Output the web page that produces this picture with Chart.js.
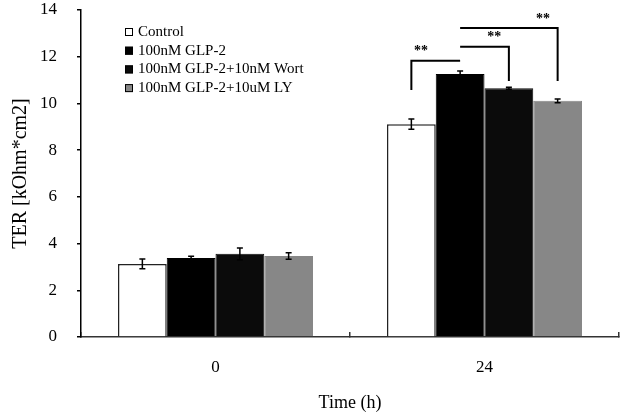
<!DOCTYPE html>
<html>
<head>
<meta charset="utf-8">
<script src="https://cdn.jsdelivr.net/npm/chart.js@4.4.1/dist/chart.umd.min.js"></script>
<style>
  html, body { margin: 0; padding: 0; background: #fff; }
  #wrap { width: 630px; height: 418px; }
</style>
</head>
<body>
<div id="wrap"><canvas id="terChart" width="630" height="418"></canvas></div>
<script>
const timeLabels = ['0', '24'];
const seriesNames = ['Control', '100nM GLP-2', '100nM GLP-2+10nM Wort', '100nM GLP-2+10uM LY'];

// mean TER per time point
const controlMeans = [3.13, 9.11];
const glpMeans = [3.38, 11.26];
const wortMeans = [3.56, 10.65];
const lyMeans = [3.47, 10.11];

// error bar half lengths
const controlErr = [0.21, 0.22];
const glpErr = [0.08, 0.13];
const wortErr = [0.25, 0.04];
const lyErr = [0.14, 0.08];

// significance brackets at 24h: [from series, to series, top, from drop, to drop, star pos]
const sigBrackets = [
  [0, 1, 11.83, 10.58, 11.83, 0.2],
  [1, 2, 12.43, 12.43, 10.96, 0.7],
  [1, 3, 13.23, 13.23, 10.96, 0.85]
];

const serif = 'Liberation Serif, Times New Roman, serif';

const errorBarPlugin = {
  id: 'errorBars',
  afterDatasetsDraw(chart) {
    const ctx = chart.ctx;
    const y = chart.scales.y;
    ctx.save();
    ctx.strokeStyle = '#000';
    ctx.lineWidth = 1.5;
    chart.data.datasets.forEach((ds, i) => {
      const meta = chart.getDatasetMeta(i);
      meta.data.forEach((bar, j) => {
        const hi = y.getPixelForValue(ds.data[j] + ds.errors[j]);
        const lo = y.getPixelForValue(ds.data[j] - ds.errors[j]);
        ctx.beginPath();
        ctx.moveTo(bar.x, hi); ctx.lineTo(bar.x, lo);
        ctx.moveTo(bar.x - 3, hi); ctx.lineTo(bar.x + 3, hi);
        ctx.moveTo(bar.x - 3, lo); ctx.lineTo(bar.x + 3, lo);
        ctx.stroke();
      });
    });
    ctx.restore();
  }
};

const bracketPlugin = {
  id: 'sigBrackets',
  afterDatasetsDraw(chart) {
    const ctx = chart.ctx;
    const y = chart.scales.y;
    ctx.save();
    ctx.strokeStyle = '#000';
    ctx.lineWidth = 2;
    ctx.fillStyle = '#000';
    ctx.font = 'bold 14px ' + serif;
    ctx.textAlign = 'center';
    ctx.textBaseline = 'middle';
    sigBrackets.forEach(b => {
      const x1 = chart.getDatasetMeta(b[0]).data[1].x;
      const x2 = chart.getDatasetMeta(b[1]).data[1].x;
      const top = y.getPixelForValue(b[2]);
      ctx.beginPath();
      ctx.moveTo(x1, y.getPixelForValue(b[3]));
      ctx.lineTo(x1, top);
      ctx.lineTo(x2, top);
      ctx.lineTo(x2, y.getPixelForValue(b[4]));
      ctx.stroke();
      ctx.fillText('**', x1 + (x2 - x1) * b[5], top - 9);
    });
    ctx.restore();
  }
};

const legendPlugin = {
  id: 'boxLegend',
  afterDraw(chart) {
    const ctx = chart.ctx;
    const area = chart.chartArea;
    ctx.save();
    ctx.font = '15px ' + serif;
    ctx.textBaseline = 'middle';
    chart.data.datasets.forEach((ds, i) => {
      const cy = area.top + 22 + i * 18.7;
      const bx = area.left + 44;
      ctx.fillStyle = ds.backgroundColor;
      ctx.fillRect(bx, cy - 4, 8, 8);
      ctx.strokeStyle = '#000';
      ctx.lineWidth = 1;
      ctx.strokeRect(bx + 0.5, cy - 3.5, 7, 7);
      ctx.fillStyle = '#000';
      ctx.fillText(ds.label, bx + 13, cy);
    });
    ctx.restore();
  }
};

new Chart(document.getElementById('terChart'), {
  type: 'bar',
  data: {
    labels: timeLabels,
    datasets: [
      { label: seriesNames[0], data: controlMeans, errors: controlErr, backgroundColor: '#ffffff', borderColor: '#222', borderWidth: 1.5 },
      { label: seriesNames[1], data: glpMeans, errors: glpErr, backgroundColor: '#000000', borderColor: '#000', borderWidth: 1 },
      { label: seriesNames[2], data: wortMeans, errors: wortErr, backgroundColor: '#0b0b0b', borderColor: '#0b0b0b', borderWidth: 1 },
      { label: seriesNames[3], data: lyMeans, errors: lyErr, backgroundColor: '#878787', borderColor: '#878787', borderWidth: 1 }
    ]
  },
  options: {
    responsive: false,
    animation: false,
    layout: { padding: { top: 10, right: 11, left: 0, bottom: 0 } },
    plugins: {
      legend: { display: false },
      tooltip: { enabled: false }
    },
    datasets: {
      bar: { categoryPercentage: 0.725, barPercentage: 1 }
    },
    scales: {
      x: {
        grid: { drawOnChartArea: false, drawTicks: true, tickLength: -5, color: '#333', lineWidth: 1.5 },
        border: { color: '#333', width: 1.5 },
        ticks: { color: '#000', padding: 25, font: { family: serif, size: 17 } },
        title: { display: true, text: 'Time (h)', color: '#000', font: { family: serif, size: 18 }, padding: { top: 0, bottom: 4 } },
        afterFit(scale) { scale.height = 81; }
      },
      y: {
        min: 0,
        max: 14,
        ticks: { stepSize: 2, color: '#000', padding: 20, font: { family: serif, size: 17 } },
        grid: { drawOnChartArea: false, drawTicks: true, tickLength: 4, color: '#000', lineWidth: 1.5 },
        border: { color: '#000', width: 1.5 },
        title: { display: true, text: 'TER [kOhm*cm2]', color: '#000', font: { family: serif, size: 20 }, padding: { top: 9, bottom: 0 } },
        afterFit(scale) {
          scale.width = 81;
          scale.paddingTop = 0;
        }
      }
    }
  },
  plugins: [errorBarPlugin, bracketPlugin, legendPlugin]
});
</script>
</body>
</html>
